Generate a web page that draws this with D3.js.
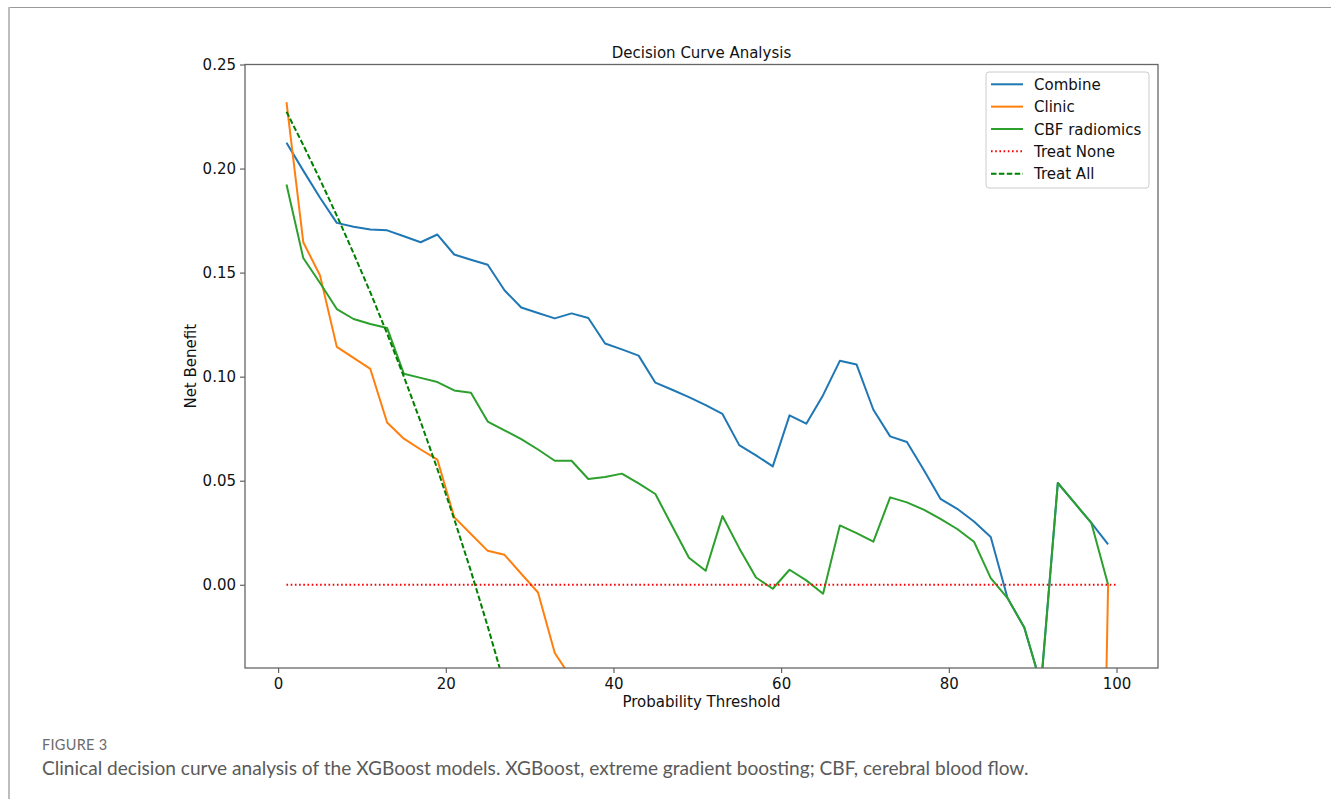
<!DOCTYPE html>
<html>
<head>
<meta charset="utf-8">
<script src="https://cdn.jsdelivr.net/npm/d3@7"></script>
<style>
  body { margin: 0; background: #ffffff; }
</style>
</head>
<body>
<svg id="chart"></svg>
<script>
// thresholds (%), odd steps 1..99
var thresholds = d3.range(1, 100, 2);

var combine = [0.2124, 0.199, 0.186, 0.1739, 0.1720, 0.1707, 0.1703, 0.1675, 0.1646, 0.1683,
               0.1587, 0.1562, 0.1538, 0.1415, 0.1332, 0.1306, 0.1280, 0.1304, 0.1282, 0.1159,
               0.1131, 0.1101, 0.0971, 0.0937, 0.0902, 0.0863, 0.0821, 0.0671, 0.0622, 0.0569,
               0.0814, 0.0774, 0.0911, 0.1076, 0.1058, 0.0841, 0.0713, 0.0686, 0.0553, 0.0413,
               0.0365, 0.0304, 0.0229, -0.0064, -0.0205, -0.048, 0.0489, 0.0393, 0.0297, 0.0194];

var clinic = [0.2319, 0.1646, 0.1486, 0.1143, 0.1090, 0.1037, 0.0780, 0.0702, 0.0650, 0.0601,
              0.0325, 0.0244, 0.0163, 0.0144, 0.0053, -0.0037, -0.0328, -0.045, -0.062, -0.075,
              -0.09, -0.10, -0.115, -0.13, -0.14, -0.155, -0.17, -0.18, -0.19, -0.205,
              -0.22, -0.23, -0.245, -0.26, -0.27, -0.28, -0.29, -0.30, -0.31, -0.32,
              -0.33, -0.34, -0.35, -0.36, -0.37, -0.38, -0.39, -0.40, -0.42, 0.0];

var cbf = [0.1923, 0.1570, 0.1450, 0.1325, 0.1277, 0.1253, 0.1234, 0.1014, 0.0994, 0.0974,
           0.0934, 0.0923, 0.0784, 0.0742, 0.0700, 0.0650, 0.0596, 0.0596, 0.0508, 0.0518,
           0.0534, 0.0487, 0.0436, 0.0282, 0.0130, 0.0067, 0.0330, 0.0176, 0.0035, -0.0019,
           0.0072, 0.0021, -0.0043, 0.0285, 0.0248, 0.0207, 0.0420, 0.0396, 0.0361, 0.0317,
           0.0268, 0.0207, 0.0032, -0.0064, -0.0205, -0.048, 0.0489, 0.0393, 0.0297, 0.0000];

var treatAllX = [1, 3, 5, 7, 9, 11, 13, 15, 17, 19, 21, 23, 25, 27, 29, 31];
var treatAll = [0.2273, 0.2113, 0.1947, 0.1774, 0.1593, 0.1405, 0.1207, 0.1000,
                0.0783, 0.0556, 0.0316, 0.0065, -0.0200, -0.0480, -0.0775, -0.1087];

var treatNoneX = [1, 100];
var treatNone = [0, 0];

var xTicks = [0, 20, 40, 60, 80, 100];
var yTicks = [0.00, 0.05, 0.10, 0.15, 0.20, 0.25];

var series = [
  {name: "Combine", xs: thresholds, ys: combine, color: "#1f77b4", dash: null},
  {name: "Clinic", xs: thresholds, ys: clinic, color: "#ff7f0e", dash: null},
  {name: "CBF radiomics", xs: thresholds, ys: cbf, color: "#2ca02c", dash: null},
  {name: "Treat None", xs: treatNoneX, ys: treatNone, color: "#ff0000", dash: "1.6,2.6"},
  {name: "Treat All", xs: treatAllX, ys: treatAll, color: "#008000", dash: "5.5,2.4"}
];

var W = 1331, H = 799;
var pLeft = 245, pRight = 1158, pTop = 64.5, pBottom = 668;
var font = "DejaVu Sans, sans-serif";

var svg = d3.select("#chart").attr("width", W).attr("height", H);

// page frame lines
svg.append("line").attr("x1", 8).attr("x2", W).attr("y1", 7.5).attr("y2", 7.5)
  .attr("stroke", "#9a9a9a").attr("stroke-width", 1);
svg.append("line").attr("x1", 9).attr("x2", 9).attr("y1", 7).attr("y2", H)
  .attr("stroke", "#bdbdbd").attr("stroke-width", 2);

var x = d3.scaleLinear().domain([-3.95, 104.95]).range([pLeft, pRight]);
var y = d3.scaleLinear().domain([-0.04, 0.25]).range([pBottom, pTop]);

svg.append("clipPath").attr("id", "plotClip")
  .append("rect")
  .attr("x", pLeft).attr("y", pTop)
  .attr("width", pRight - pLeft).attr("height", pBottom - pTop);

var plot = svg.append("g").attr("clip-path", "url(#plotClip)");

var line = d3.line()
  .x(function(d) { return x(d[0]); })
  .y(function(d) { return y(d[1]); });

series.forEach(function(s) {
  var pts = s.xs.map(function(v, i) { return [v, s.ys[i]]; });
  plot.append("path")
    .attr("d", line(pts))
    .attr("fill", "none")
    .attr("stroke", s.color)
    .attr("stroke-width", 2)
    .attr("stroke-dasharray", s.dash)
    .attr("stroke-linejoin", "round");
});

// axes
var xAxis = d3.axisBottom(x).tickValues(xTicks).tickSize(5).tickPadding(5)
  .tickFormat(d3.format("d"));
var yAxis = d3.axisLeft(y).tickValues(yTicks).tickSize(5).tickPadding(4)
  .tickFormat(d3.format(".2f"));

var gx = svg.append("g").attr("transform", "translate(0," + pBottom + ")").call(xAxis);
var gy = svg.append("g").attr("transform", "translate(" + pLeft + ",0)").call(yAxis);

[gx, gy].forEach(function(g) {
  g.select(".domain").remove();
  g.selectAll(".tick line").attr("stroke", "#555").attr("stroke-width", 1.1);
  g.selectAll(".tick text").attr("font-size", 15).attr("fill", "#111")
    .attr("font-family", font);
});

// frame
svg.append("rect")
  .attr("x", pLeft).attr("y", pTop)
  .attr("width", pRight - pLeft).attr("height", pBottom - pTop)
  .attr("fill", "none").attr("stroke", "#666").attr("stroke-width", 1.3);

// titles
svg.append("text").attr("x", (pLeft + pRight) / 2).attr("y", 58)
  .attr("text-anchor", "middle").attr("font-family", font).attr("font-size", 15).attr("fill", "#111")
  .text("Decision Curve Analysis");

svg.append("text").attr("x", (pLeft + pRight) / 2).attr("y", 707)
  .attr("text-anchor", "middle").attr("font-family", font).attr("font-size", 15).attr("fill", "#111")
  .text("Probability Threshold");

svg.append("text")
  .attr("transform", "translate(196," + (pTop + pBottom) / 2 + ") rotate(-90)")
  .attr("text-anchor", "middle").attr("font-family", font).attr("font-size", 15).attr("fill", "#111")
  .text("Net Benefit");

// legend
var legend = svg.append("g");
legend.append("rect")
  .attr("x", 986).attr("y", 72).attr("width", 163).attr("height", 116)
  .attr("rx", 3).attr("fill", "#ffffff").attr("fill-opacity", 0.85)
  .attr("stroke", "#cccccc").attr("stroke-width", 1);

series.forEach(function(s, i) {
  var yy = 84.3 + i * 22.35;
  legend.append("line")
    .attr("x1", 991).attr("x2", 1023).attr("y1", yy).attr("y2", yy)
    .attr("stroke", s.color).attr("stroke-width", 2)
    .attr("stroke-dasharray", s.dash);
  legend.append("text")
    .attr("x", 1034).attr("y", yy + 5.5)
    .attr("font-family", font).attr("font-size", 15).attr("fill", "#111")
    .text(s.name);
});

// caption
svg.append("text").attr("x", 42).attr("y", 750)
  .attr("font-family", "Lato, Open Sans, sans-serif").attr("font-size", 14.5)
  .attr("fill", "#6b6b6b").attr("letter-spacing", 0.3)
  .text("FIGURE 3");

svg.append("text").attr("x", 42).attr("y", 775)
  .attr("font-family", "Lato, Open Sans, sans-serif").attr("font-size", 19.1)
  .attr("fill", "#5a5a5a")
  .text("Clinical decision curve analysis of the XGBoost models. XGBoost, extreme gradient boosting; CBF, cerebral blood flow.");
</script>
</body>
</html>
